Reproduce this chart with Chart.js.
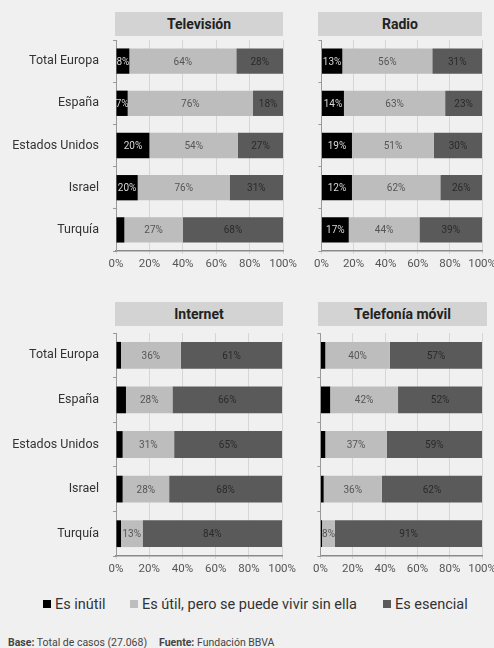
<!DOCTYPE html>
<html>
<head>
<meta charset="utf-8">
<script src="https://cdn.jsdelivr.net/npm/chart.js@4/dist/chart.umd.min.js"></script>
<style>
  body { margin: 0; background: #f0f0f0; font-family: Roboto, "Liberation Sans", sans-serif; }
  #wrap { position: relative; width: 494px; height: 648px; overflow: hidden; }
  .box { position: absolute; }
  .titulo { position: absolute; background: #d3d3d3; color: #222; font-weight: bold; font-size: 14px;
            text-align: center; line-height: 24px; height: 24px; }
  .leg { position: absolute; top: 596px; font-size: 14.5px; color: #333; white-space: nowrap; }
  .leg span { display: inline-block; width: 8px; height: 8px; margin-right: 4px; vertical-align: 1px; }
  #pie { position: absolute; left: 8px; top: 636px; font-size: 10.5px; color: #444; white-space: nowrap; }
  #pie .f { margin-left: 12px; }
</style>
</head>
<body>
<div id="wrap">
  <div class="titulo" style="left:115px; top:12px; width:168px;">Televisión</div>
  <div class="titulo" style="left:318px; top:12px; width:164px;">Radio</div>
  <div class="titulo" style="left:115px; top:302px; width:168px;">Internet</div>
  <div class="titulo" style="left:318px; top:302px; width:169px;">Telefonía móvil</div>

  <div class="box" style="left:0px; top:40px; width:300px; height:233px;"><canvas id="tv"></canvas></div>
  <div class="box" style="left:311px; top:40px; width:188px; height:233px;"><canvas id="radio"></canvas></div>
  <div class="box" style="left:0px; top:333px; width:299px; height:245px;"><canvas id="internet"></canvas></div>
  <div class="box" style="left:310px; top:333px; width:189px; height:245px;"><canvas id="movil"></canvas></div>

  <div class="leg" style="left:43px;"><span style="background:#000"></span>Es inútil</div>
  <div class="leg" style="left:130px;"><span style="background:#bdbdbd"></span>Es útil, pero se puede vivir sin ella</div>
  <div class="leg" style="left:383px;"><span style="background:#5a5a5a"></span>Es esencial</div>

  <div id="pie"><b>Base:</b> Total de casos (27.068)<span class="f"><b>Fuente:</b> Fundación BBVA</span></div>
</div>

<script>
const paises = ['Total Europa', 'España', 'Estados Unidos', 'Israel', 'Turquía'];
const ticksX = [0, 20, 40, 60, 80, 100];

// largo de las barras
const tvInutil = [8, 7, 20, 13, 5];
const tvUtil = [64, 75, 53, 55, 35];
const tvEsencial = [28, 18, 27, 32, 60];
const radioInutil = [13, 14, 19, 19, 17];
const radioUtil = [56, 63, 51, 55, 44];
const radioEsencial = [31, 23, 30, 26, 39];
const internetInutil = [3, 6, 4, 4, 3];
const internetUtil = [36, 28, 31, 28, 13];
const internetEsencial = [61, 66, 65, 68, 84];
const movilInutil = [3, 6, 3, 2, 1];
const movilUtil = [40, 42, 38, 36, 8];
const movilEsencial = [57, 52, 59, 62, 91];

// textos impresos sobre las barras
const tvInutilTxt = ['8%', '7%', '20%', '20%', ''];
const tvUtilTxt = ['64%', '76%', '54%', '76%', '27%'];
const tvEsencialTxt = ['28%', '18%', '27%', '31%', '68%'];
const radioInutilTxt = ['13%', '14%', '19%', '12%', '17%'];
const radioUtilTxt = ['56%', '63%', '51%', '62%', '44%'];
const radioEsencialTxt = ['31%', '23%', '30%', '26%', '39%'];
const internetUtilTxt = ['36%', '28%', '31%', '28%', '13%'];
const internetEsencialTxt = ['61%', '66%', '65%', '68%', '84%'];
const movilUtilTxt = ['40%', '42%', '37%', '36%', '8%'];
const movilEsencialTxt = ['57%', '52%', '59%', '62%', '91%'];

const fuente = 'Roboto, "Liberation Sans", sans-serif';
const colores = ['#000000', '#bdbdbd', '#5a5a5a'];
const colorTexto = ['#d8d8d8', '#555555', '#2a2a2a'];

const etiquetas = {
    id: 'etiquetas',
    afterDatasetsDraw(chart) {
        const ctx = chart.ctx;
        ctx.save();
        ctx.font = '10px ' + fuente;
        ctx.textAlign = 'center';
        ctx.textBaseline = 'middle';
        chart.data.datasets.forEach((ds, i) => {
            const meta = chart.getDatasetMeta(i);
            meta.data.forEach((bar, j) => {
                const t = ds.textos ? ds.textos[j] : '';
                if (!t) return;
                ctx.fillStyle = colorTexto[i];
                ctx.fillText(t, (bar.x + bar.base) / 2, bar.y + 1);
            });
        });
        ctx.restore();
    }
};

function grafico(id, inutil, util, esencial, txts, conNombres) {
    const data = {
        labels: paises,
        datasets: [
            { label: 'Es inútil', data: inutil, backgroundColor: colores[0], textos: txts[0] },
            { label: 'Es útil, pero se puede vivir sin ella', data: util, backgroundColor: colores[1], textos: txts[1] },
            { label: 'Es esencial', data: esencial, backgroundColor: colores[2], textos: txts[2] }
        ]
    };

    const config = {
        type: 'bar',
        data: data,
        options: {
            indexAxis: 'y',
            responsive: true,
            maintainAspectRatio: false,
            animation: false,
            layout: { padding: { left: 0, right: 12, top: 0, bottom: 0 } },
            datasets: { bar: { barPercentage: 0.6, categoryPercentage: 1, borderWidth: 0 } },
            plugins: {
                legend: { display: false },
                tooltip: { enabled: false }
            },
            scales: {
                x: {
                    stacked: true,
                    min: 0,
                    max: 100,
                    afterBuildTicks: s => { s.ticks = ticksX.map(v => ({ value: v })); },
                    afterFit: s => { s.height = 22; },
                    grid: { color: '#d6d6d6', tickLength: 3 },
                    border: { color: '#8a8a8a', width: 1.5 },
                    ticks: {
                        color: '#555',
                        padding: 3,
                        autoSkip: false,
                        maxRotation: 0,
                        font: { family: fuente, size: 11.5 },
                        callback: v => v + '%'
                    }
                },
                y: {
                    stacked: true,
                    afterFit: s => {
                        s.width = conNombres ? 116 : 10;
                        s.paddingTop = 0;
                        s.paddingBottom = 0;
                    },
                    grid: { offset: true, drawOnChartArea: false, tickLength: 3, color: '#999' },
                    border: { color: '#999', width: 1 },
                    ticks: {
                        display: conNombres,
                        color: '#333',
                        padding: 14,
                        font: { family: fuente, size: 12.5 }
                    }
                }
            }
        },
        plugins: [etiquetas]
    };

    new Chart(document.getElementById(id), config);
}

grafico('tv', tvInutil, tvUtil, tvEsencial, [tvInutilTxt, tvUtilTxt, tvEsencialTxt], true);
grafico('radio', radioInutil, radioUtil, radioEsencial, [radioInutilTxt, radioUtilTxt, radioEsencialTxt], false);
grafico('internet', internetInutil, internetUtil, internetEsencial, [null, internetUtilTxt, internetEsencialTxt], true);
grafico('movil', movilInutil, movilUtil, movilEsencial, [null, movilUtilTxt, movilEsencialTxt], false);
</script>
</body>
</html>
